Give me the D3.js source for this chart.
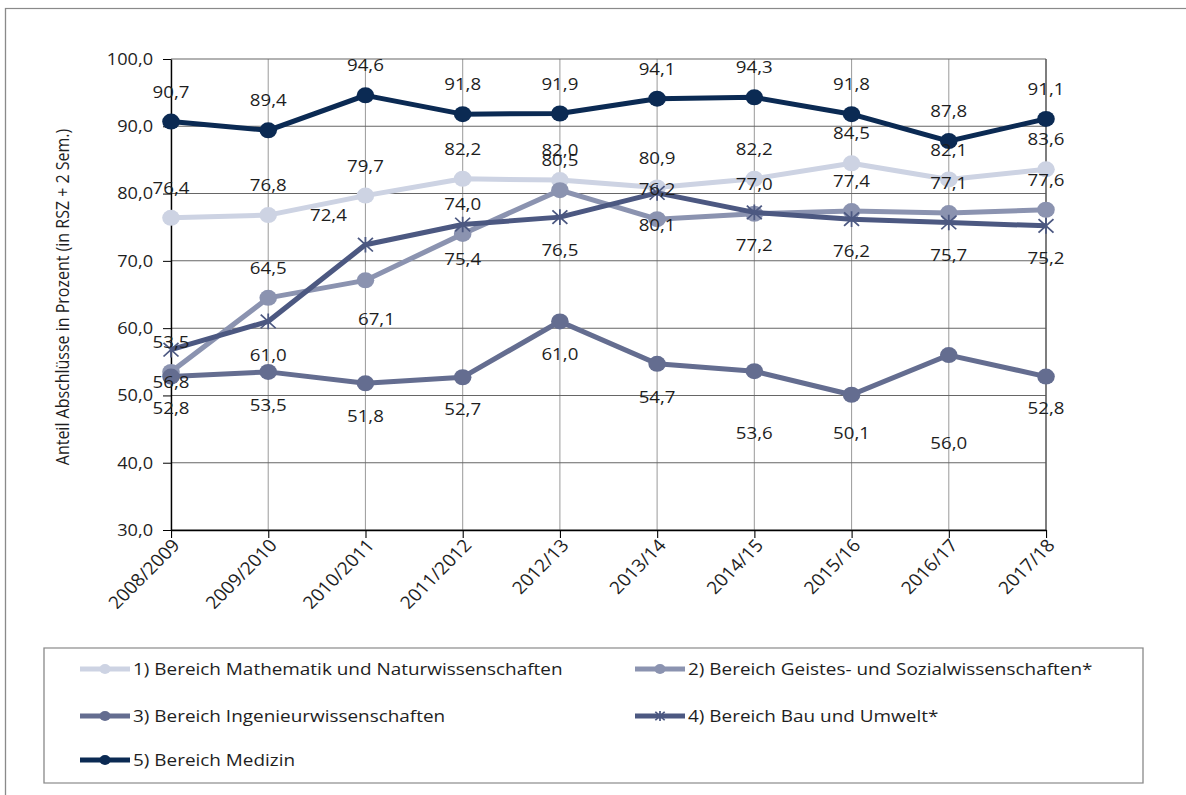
<!DOCTYPE html>
<html><head><meta charset="utf-8">
<script src="https://cdn.jsdelivr.net/npm/d3@7"></script>
<style>html,body{margin:0;padding:0;background:#fff;overflow:hidden}svg{display:block}</style>
</head><body>
<div id="chart"></div>
<script>
// ---------- data ----------
const categories = ["2008/2009","2009/2010","2010/2011","2011/2012","2012/13","2013/14","2014/15","2015/16","2016/17","2017/18"];
const seriesNames = [
  "1) Bereich Mathematik und Naturwissenschaften",
  "2) Bereich Geistes- und Sozialwissenschaften*",
  "3) Bereich Ingenieurwissenschaften",
  "4) Bereich Bau und Umwelt*",
  "5) Bereich Medizin"
];
const mathematik = [76.4, 76.8, 79.7, 82.2, 82.0, 80.9, 82.2, 84.5, 82.1, 83.6];
const geistes    = [53.5, 64.5, 67.1, 74.0, 80.5, 76.2, 77.0, 77.4, 77.1, 77.6];
const ingenieur  = [52.8, 53.5, 51.8, 52.7, 61.0, 54.7, 53.6, 50.1, 56.0, 52.8];
const bau        = [56.8, 61.0, 72.4, 75.4, 76.5, 80.1, 77.2, 76.2, 75.7, 75.2];
const medizin    = [90.7, 89.4, 94.6, 91.8, 91.9, 94.1, 94.3, 91.8, 87.8, 91.1];
const yTicks = [30, 40, 50, 60, 70, 80, 90, 100];
const yTitle = "Anteil Abschlüsse in Prozent (in RSZ + 2 Sem.)";

// ---------- style ----------
const colors = ["#cdd3e3", "#8b93b0", "#646d90", "#4c5881", "#0b2a53"];
const markers = ["circle","circle","circle","star","circle"];
// label offsets (px) relative to the point
const A = [0,-30], B = [0,32];
const labelOffsets = [
  [A,A,A,A,A,A,A,A,A,A],
  [A,A,[11,39],A,A,A,A,A,A,A],
  [[0,31],[0,33],[0,33],[0,32],[0,32],[0,33],[0,62],[0,38],[0,88],[0,31]],
  [[0,32],[0,33],[-37,-30],[0,34],[0,33],B,B,B,B,B],
  [A,A,A,A,A,A,A,A,A,A]
];
const seriesData = [mathematik, geistes, ingenieur, bau, medizin];

const S = 1.1;              // horizontal stretch of the picture
const W = 1186, H = 795, VW = W / S;
const X = px => px / S;
const fmt = v => d3.format(".1f")(v).replace(".", ",");
const FONT = "'Open Sans', 'Noto Sans', sans-serif";
const TXT = "#1e1e1e";

const svg = d3.select("#chart").append("svg")
  .attr("width", W).attr("height", H)
  .attr("viewBox", `0 0 ${VW} ${H}`)
  .attr("preserveAspectRatio", "none")
  .style("font-family", FONT);

// outer frame
svg.append("rect").attr("x", X(5.5)).attr("y", 8.5).attr("width", VW).attr("height", H)
  .attr("fill", "none").attr("stroke", "#8a8a8a").attr("stroke-width", 1.2);

const x = d3.scalePoint().domain(categories).range([X(171), X(1046)]);
const y = d3.scaleLinear().domain([30, 100]).range([530, 59]);

// gridlines
const g = svg.append("g");
g.selectAll(".vg").data(categories).join("line")
  .attr("x1", d => x(d)).attr("x2", d => x(d)).attr("y1", y(100)).attr("y2", y(30))
  .attr("stroke", "#a3a3a3").attr("stroke-width", 1);
g.selectAll(".hg").data(yTicks).join("line")
  .attr("x1", x.range()[0]).attr("x2", x.range()[1]).attr("y1", d => y(d)).attr("y2", d => y(d))
  .attr("stroke", "#666").attr("stroke-width", 1);
// right border
g.append("line").attr("x1", x.range()[1]).attr("x2", x.range()[1]).attr("y1", y(100)).attr("y2", y(30))
  .attr("stroke", "#555").attr("stroke-width", 1.2);

// y axis
const yAxis = svg.append("g").attr("transform", `translate(${X(171)},0)`)
  .call(d3.axisLeft(y).tickValues(yTicks).tickFormat(fmt).tickSize(X(8)).tickSizeOuter(0).tickPadding(X(10)));
yAxis.select(".domain").attr("stroke", "#000").attr("stroke-width", 1.2);
yAxis.selectAll(".tick line").attr("stroke", "#000");
yAxis.selectAll(".tick text").attr("font-size", 16.5).attr("fill", TXT).attr("font-family", FONT);

// x axis
const xAxis = svg.append("g").attr("transform", `translate(0,${y(30)})`)
  .call(d3.axisBottom(x).tickSize(8).tickSizeOuter(0).tickFormat(""));
xAxis.select(".domain").attr("stroke", "#000").attr("stroke-width", 1.4);
xAxis.selectAll(".tick line").attr("stroke", "#000");
const rot = -Math.atan(S) * 180 / Math.PI;
svg.append("g").selectAll("text").data(categories).join("text")
  .attr("transform", d => `translate(${x(d) + X(5)},${y(30) + 12}) rotate(${rot})`)
  .attr("text-anchor", "end").attr("dy", "0.35em")
  .attr("font-size", 17.5).attr("fill", TXT).text(d => d);

// y title
svg.append("text")
  .attr("transform", `translate(${X(63)},${297}) rotate(-90)`)
  .attr("text-anchor", "middle").attr("dy", "0.35em")
  .attr("font-size", 16).attr("fill", TXT).text(yTitle);

// series
const line = d3.line().x((d, i) => x(categories[i])).y(d => y(d));
function drawMarker(sel, type, color, r) {
  if (type === "circle") {
    sel.append("circle").attr("r", r).attr("fill", color);
  } else {
    const s = r * 0.85;
    sel.append("path")
      .attr("d", `M${-s},${-s}L${s},${s}M${-s},${s}L${s},${-s}M0,${-s * 1.15}L0,${s * 1.15}`)
      .attr("stroke", color).attr("stroke-width", 1.6).attr("fill", "none");
  }
}
seriesData.forEach((vals, si) => {
  const sg = svg.append("g");
  sg.append("path").datum(vals).attr("d", line)
    .attr("fill", "none").attr("stroke", colors[si]).attr("stroke-width", 5)
    .attr("stroke-linejoin", "round");
  vals.forEach((v, i) => {
    const m = sg.append("g").attr("transform", `translate(${x(categories[i])},${y(v)})`);
    drawMarker(m, markers[si], colors[si], 8);
  });
});
// labels on top
seriesData.forEach((vals, si) => {
  svg.append("g").selectAll("text").data(vals).join("text")
    .attr("x", (d, i) => x(categories[i]) + X(labelOffsets[si][i][0]))
    .attr("y", (d, i) => y(d) + labelOffsets[si][i][1])
    .attr("dy", "0.36em").attr("text-anchor", "middle")
    .attr("font-size", 17).attr("fill", TXT).text(d => fmt(d));
});

// legend
svg.append("rect").attr("x", X(44)).attr("y", 648).attr("width", X(1143) - X(44)).attr("height", 783 - 648)
  .attr("fill", "none").attr("stroke", "#8a8a8a").attr("stroke-width", 1.2);
const legPos = [[80, 669], [635, 669], [80, 716], [635, 716], [80, 760]];
seriesNames.forEach((name, si) => {
  const [lx, ly] = legPos[si];
  const lg = svg.append("g");
  lg.append("line").attr("x1", X(lx)).attr("x2", X(lx + 50)).attr("y1", ly).attr("y2", ly)
    .attr("stroke", colors[si]).attr("stroke-width", 5);
  const m = lg.append("g").attr("transform", `translate(${X(lx + 25)},${ly})`);
  drawMarker(m, markers[si], colors[si], 5);
  lg.append("text").attr("x", X(lx + 53)).attr("y", ly).attr("dy", "0.35em")
    .attr("font-size", 17.2).attr("fill", TXT).text(name);
});
</script>
</body></html>
